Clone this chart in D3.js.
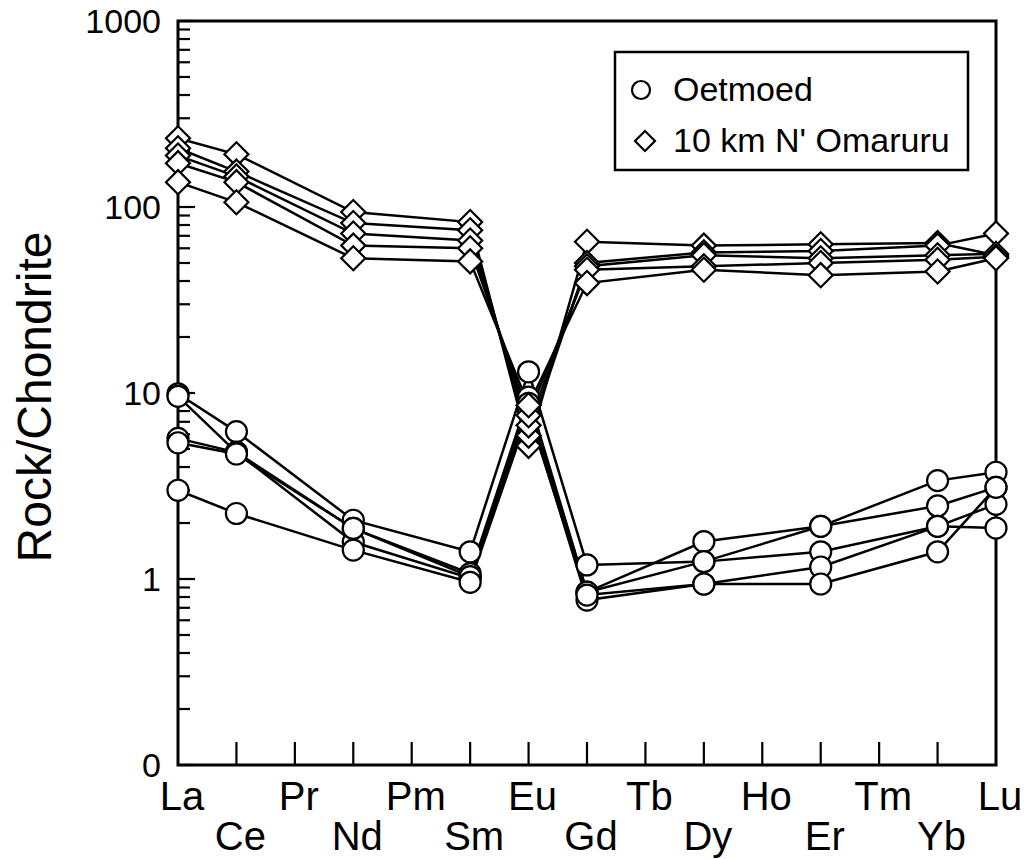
<!DOCTYPE html>
<html>
<head>
<meta charset="utf-8">
<script src="https://cdn.jsdelivr.net/npm/d3@7"></script>
<style>
  body { margin: 0; background: #fff; }
  text { font-family: "Liberation Sans", Arial, Helvetica, sans-serif; fill: #000; }
</style>
</head>
<body>
<div id="chart"></div>
<script>
// REE elements on the x axis, and the ones that were measured
const elements = ["La", "Ce", "Pr", "Nd", "Pm", "Sm", "Eu", "Gd", "Tb", "Dy", "Ho", "Er", "Tm", "Yb", "Lu"];
const measured = ["La", "Ce", "Nd", "Sm", "Eu", "Gd", "Dy", "Er", "Yb", "Lu"];

// Oetmoed samples (circles), values in measured order
const oetmoed1 = [9.9, 6.2, 2.07, 1.40, 13.0, 1.19, 1.24, 1.92, 3.38, 3.75];
const oetmoed2 = [9.6, 4.8, 1.87, 1.07, 9.5, 0.85, 1.59, 1.92, 2.47, 3.11];
const oetmoed3 = [5.7, 4.8, 1.58, 1.01, 8.8, 0.85, 1.24, 1.40, 1.92, 1.88];
const oetmoed4 = [5.4, 4.7, 1.87, 1.03, 8.2, 0.77, 0.94, 1.16, 1.92, 2.52];
const oetmoed5 = [3.0, 2.25, 1.43, 0.96, 7.8, 0.82, 0.94, 0.94, 1.40, 3.11];

// 10 km N' Omaruru samples (diamonds)
const omaruru1 = [234, 192, 94, 83, 5.2, 65, 62, 63, 64, 55];
const omaruru2 = [207, 155, 82, 75, 5.9, 50, 57, 58, 62, 72];
const omaruru3 = [189, 146, 72, 66, 6.7, 48, 55, 53, 55, 56];
const omaruru4 = [172, 136, 62, 60, 7.6, 46, 48, 50, 52, 54];
const omaruru5 = [136, 106, 53, 51, 8.6, 39, 46, 43, 45, 53];

const yTicks = [0.1, 1, 10, 100, 1000];
const yTickLabels = ["0", "1", "10", "100", "1000"];
const legendNames = ["Oetmoed", "10 km N' Omaruru"];
const yTitle = "Rock/Chondrite";

const oetmoed = [oetmoed1, oetmoed2, oetmoed3, oetmoed4, oetmoed5];
const omaruru = [omaruru1, omaruru2, omaruru3, omaruru4, omaruru5];

const width = 1027, height = 859;
const plotLeft = 178, plotRight = 996, plotTop = 21, plotBottom = 765;

const svg = d3.select("#chart").append("svg")
    .attr("width", width)
    .attr("height", height);

const x = d3.scalePoint().domain(elements).range([plotLeft, plotRight]);
const y = d3.scaleLog().domain([0.1, 1000]).range([plotBottom, plotTop]);

// minor + major ticks on the left axis, pointing inward
const allTicks = y.ticks();
svg.append("g").selectAll("line")
    .data(allTicks)
    .join("line")
    .attr("x1", plotLeft)
    .attr("x2", d => yTicks.includes(d) ? plotLeft + 17 : plotLeft + 12)
    .attr("y1", d => y(d))
    .attr("y2", d => y(d))
    .attr("stroke", "#000")
    .attr("stroke-width", 2.2);

svg.append("g").selectAll("text")
    .data(yTicks)
    .join("text")
    .attr("x", plotLeft - 17)
    .attr("y", d => y(d))
    .attr("dy", "0.36em")
    .attr("text-anchor", "end")
    .style("font-size", "34px")
    .text((d, i) => yTickLabels[i]);

// x ticks pointing up
svg.append("g").selectAll("line")
    .data(elements.slice(1, -1))
    .join("line")
    .attr("x1", d => x(d))
    .attr("x2", d => x(d))
    .attr("y1", plotBottom)
    .attr("y2", plotBottom - 23)
    .attr("stroke", "#000")
    .attr("stroke-width", 2.2);

svg.append("g").selectAll("text")
    .data(elements)
    .join("text")
    .attr("x", d => x(d) + 4)
    .attr("y", (d, i) => i % 2 === 0 ? 810 : 850)
    .attr("text-anchor", "middle")
    .style("font-size", "40px")
    .text(d => d);

// frame
svg.append("rect")
    .attr("x", plotLeft)
    .attr("y", plotTop)
    .attr("width", plotRight - plotLeft)
    .attr("height", plotBottom - plotTop)
    .attr("fill", "none")
    .attr("stroke", "#000")
    .attr("stroke-width", 3);

svg.append("text")
    .attr("transform", "translate(51,397) rotate(-90)")
    .attr("text-anchor", "middle")
    .style("font-size", "48px")
    .text(yTitle);

const line = d3.line()
    .x((d, i) => x(measured[i]))
    .y(d => y(d));

const lines = svg.append("g");
lines.selectAll(".o").data(oetmoed).join("path")
    .attr("class", "o")
    .attr("d", line)
    .attr("fill", "none")
    .attr("stroke", "#000")
    .attr("stroke-width", 2.5);
lines.selectAll(".d").data(omaruru).join("path")
    .attr("class", "d")
    .attr("d", line)
    .attr("fill", "none")
    .attr("stroke", "#000")
    .attr("stroke-width", 2.5);

// flatten for markers
const circlePts = oetmoed.flatMap(s => s.map((v, i) => ({ el: measured[i], v: v })));
const diamondPts = omaruru.flatMap(s => s.map((v, i) => ({ el: measured[i], v: v })));

svg.append("g").selectAll("circle")
    .data(circlePts)
    .join("circle")
    .attr("cx", d => x(d.el))
    .attr("cy", d => y(d.v))
    .attr("r", 10.5)
    .attr("fill", "#fff")
    .attr("stroke", "#000")
    .attr("stroke-width", 2.2);

const diamond = d3.symbol(d3.symbolSquare, 289);
svg.append("g").selectAll("path")
    .data(diamondPts)
    .join("path")
    .attr("d", diamond)
    .attr("transform", d => "translate(" + x(d.el) + "," + y(d.v) + ") rotate(45)")
    .attr("fill", "#fff")
    .attr("stroke", "#000")
    .attr("stroke-width", 2.2);

// legend
const legend = svg.append("g");
legend.append("rect")
    .attr("x", 615).attr("y", 52)
    .attr("width", 353).attr("height", 118)
    .attr("fill", "#fff")
    .attr("stroke", "#000")
    .attr("stroke-width", 2.5);
legend.append("circle")
    .attr("cx", 641).attr("cy", 90).attr("r", 9)
    .attr("fill", "#fff").attr("stroke", "#000").attr("stroke-width", 2.2);
legend.append("path")
    .attr("d", d3.symbol(d3.symbolSquare, 200))
    .attr("transform", "translate(645,141) rotate(45)")
    .attr("fill", "#fff").attr("stroke", "#000").attr("stroke-width", 2.2);
legend.selectAll("text")
    .data(legendNames)
    .join("text")
    .attr("x", 673)
    .attr("y", (d, i) => i === 0 ? 101 : 152)
    .style("font-size", "34px")
    .text(d => d);
</script>
</body>
</html>
